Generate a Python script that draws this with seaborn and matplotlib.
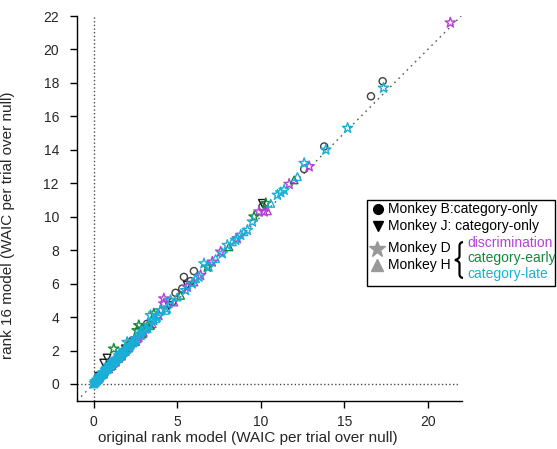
import numpy as np
import pandas as pd
import matplotlib
matplotlib.use("Agg")
import matplotlib.pyplot as plt
import seaborn as sns
from matplotlib.patches import Rectangle, PathPatch
from matplotlib.path import Path
from matplotlib.lines import Line2D

# ---------------- data ----------------
B_x = [17.3, 16.6, 13.8, 12.6, 10.1, 5.4, 6.0, 5.8, 5.3, 4.9, 4.7, 3.2, 2.3, 1.6, 1.0, 0.5, 0.2, 0.05]
B_y = [18.1, 17.2, 14.2, 12.85, 10.6, 6.4, 6.75, 6.15, 5.7, 5.45, 4.9, 3.6, 2.6, 1.8, 1.15, 0.6, 0.2, 0.08]

J_x = [10.1, 5.6, 0.6, 0.8, 1.9, 3.0, 0.3, 4.5]
J_y = [10.8, 5.9, 1.25, 1.55, 2.1, 3.1, 0.45, 4.7]

Ddisc_x = [21.35, 12.9, 11.7, 9.9, 10.2, 7.6, 7.1, 4.2, 4.2, 3.9, 3.3, 2.7, 2.3, 1.9, 1.5, 1.2, 0.9, 0.6, 0.35, 5.6, 6.4, 8.6, 3.0, 1.7, 2.5]
Ddisc_y = [21.6, 13.0, 11.95, 10.3, 10.3, 7.9, 7.3, 5.1, 4.8, 4.1, 3.5, 2.8, 2.5, 2.0, 1.55, 1.25, 0.95, 0.65, 0.4, 5.8, 6.5, 8.7, 3.1, 1.7, 2.55]

Hdisc_x = [0.3, 0.6, 0.9, 1.3, 1.6, 2.1, 2.6, 3.5, 4.8, 6.0, 10.4, 1.1, 1.9, 2.9]
Hdisc_y = [0.3, 0.6, 0.9, 1.3, 1.65, 2.15, 2.7, 3.6, 4.9, 6.1, 10.35, 1.1, 1.95, 3.0]

Dearly_x = [10.3, 9.6, 2.7, 2.9, 2.6, 1.2, 4.0, 3.2, 2.2, 1.7, 0.8, 0.4, 1.3, 2.0, 6.8, 3.6]
Dearly_y = [10.8, 10.0, 3.5, 3.3, 3.2, 2.1, 4.4, 3.4, 2.4, 1.8, 0.9, 0.45, 1.4, 2.1, 7.0, 4.2]

Hearly_x = [12.0, 2.9, 2.5, 1.5, 1.0, 0.5, 0.2, 3.4, 5.2, 8.1]
Hearly_y = [12.2, 3.0, 2.55, 1.55, 1.05, 0.55, 0.25, 3.5, 5.3, 8.2]

Dlate_x = [17.35, 15.2, 13.9, 12.6, 11.4, 11.2, 11.0, 9.5, 9.2, 8.8, 8.5, 8.0, 7.7, 6.6, 6.9, 6.3, 5.9, 5.5,
           4.6, 4.4, 4.0, 3.4, 3.6, 3.1, 2.8, 2.0, 2.5, 2.2, 1.8, 1.5, 1.3, 1.1, 0.9, 0.7, 0.5, 0.4, 0.3, 0.2,
           0.1, 0.05, 0.6, 0.8, 1.0, 1.2, 1.6, 2.4, 2.9, 3.3, 3.8]
Dlate_y = [17.7, 15.3, 14.0, 13.2, 11.6, 11.45, 11.3, 9.7, 9.2, 8.9, 8.6, 8.3, 7.8, 7.2, 7.0, 6.4, 6.0, 5.6,
           5.0, 4.5, 4.4, 4.1, 3.8, 3.3, 3.0, 2.5, 2.7, 2.3, 2.0, 1.7, 1.45, 1.3, 1.1, 0.85, 0.65, 0.5, 0.35, 0.25,
           0.15, 0.05, 0.7, 0.95, 1.15, 1.35, 1.8, 2.55, 3.15, 3.5, 4.0]

Hlate_x = [0.0, 0.1, 0.15, 0.25, 0.35, 0.45, 0.55, 0.65, 0.75, 0.85, 0.95, 1.05, 1.2, 1.35, 1.5, 1.65, 1.8,
           2.0, 2.2, 2.5, 2.8, 3.2, 3.7, 4.3, 5.0, 6.1, 7.3, 8.3, 9.0, 10.6, 12.2,
           0.05, 0.2, 0.3, 0.4, 0.5, 0.6, 0.7, 0.8, 0.9, 1.0, 1.1, 1.3, 1.45, 1.6, 1.75, 1.9, 2.1, 2.35]
Hlate_y = [0.0, 0.1, 0.2, 0.3, 0.4, 0.55, 0.6, 0.75, 0.85, 0.95, 1.05, 1.2, 1.3, 1.45, 1.6, 1.8, 1.9,
           2.1, 2.35, 2.6, 2.9, 3.3, 3.9, 4.4, 5.2, 6.3, 7.5, 8.5, 9.1, 10.8, 12.4,
           0.12, 0.3, 0.42, 0.5, 0.6, 0.7, 0.85, 0.92, 1.05, 1.12, 1.25, 1.4, 1.55, 1.72, 1.85, 2.0, 2.25, 2.45]

x_ticks = [0, 5, 10, 15, 20]
y_ticks = [0, 2, 4, 6, 8, 10, 12, 14, 16, 18, 20, 22]
x_label = "original rank model (WAIC per trial over null)"
y_label = "rank 16 model (WAIC per trial over null)"

C_DISC = "#b640d8"
C_EARLY = "#12893a"
C_LATE = "#19afd9"

# ---------------- style ----------------
sns.set_style("ticks")
plt.rcParams["font.family"] = ["Liberation Sans", "DejaVu Sans"]
plt.rcParams["font.size"] = 10

W, H = 557, 449
fig = plt.figure(figsize=(W / 100, H / 100), dpi=100)
ax = fig.add_axes([77 / W, 1 - 400.7 / H, 385 / W, 384.7 / H])

def px(x, y):
    return (x / W, 1 - y / H)

ax.plot([-1, 22], [-1, 22], color="0.35", lw=1, dashes=(1.2, 3), zorder=1)
ax.axvline(0, color="0.3", lw=1, ls=":", zorder=1)
ax.plot([-1, 21.8], [0, 0], color="0.3", lw=1, ls=":", zorder=1)

groups = [
    (B_x, B_y, "o", "0.25", 26),
    (J_x, J_y, "v", "0.1", 30),
    (Hdisc_x, Hdisc_y, "^", C_DISC, 30),
    (Ddisc_x, Ddisc_y, "*", C_DISC, 60),
    (Hearly_x, Hearly_y, "^", C_EARLY, 30),
    (Dearly_x, Dearly_y, "*", C_EARLY, 60),
    (Hlate_x, Hlate_y, "^", C_LATE, 30),
    (Dlate_x, Dlate_y, "*", C_LATE, 60),
]
for gx, gy, mk, col, s in groups:
    df = pd.DataFrame({"x": gx, "y": gy})
    sns.scatterplot(data=df, x="x", y="y", ax=ax, marker=mk, s=s, color=col,
                    facecolor="none", edgecolor=col, linewidth=1.0, zorder=3)

ax.set_xlim(-1, 22.05)
ax.set_ylim(-1, 22)
ax.set_xticks(x_ticks)
ax.set_yticks(y_ticks)
ax.set_xlabel(x_label, fontsize=11)
ax.set_ylabel(y_label, fontsize=11)
ax.xaxis.set_label_coords(0.444, -0.079)
ax.yaxis.set_label_coords(-0.161, 0.457)
ax.tick_params(direction="out", length=5, width=1, labelsize=10, color="black")
ax.tick_params(axis="x", pad=5)
ax.tick_params(axis="y", pad=8)
sns.despine(ax=ax)
for sp in ["left", "bottom"]:
    ax.spines[sp].set_linewidth(1)
    ax.spines[sp].set_color("black")

# ---------------- legend (manual) ----------------
rect = Rectangle(px(367, 286), 188 / W, 86 / H, transform=fig.transFigure,
                 facecolor="white", edgecolor="black", lw=1, zorder=10)
fig.add_artist(rect)

def mark(x, y, m, col, size):
    fig.add_artist(Line2D([x / W], [1 - y / H], transform=fig.transFigure, marker=m,
                          color=col, markersize=size, ls="none", zorder=11))

mark(378, 209, "o", "black", 7)
mark(378, 226, "v", "black", 7.5)
mark(377, 249, "*", "0.6", 12)
mark(377, 265, "^", "0.6", 8.5)

def t(x, y, s, col="black"):
    fig.text(x / W, 1 - y / H, s, color=col, fontsize=10, va="baseline", ha="left", zorder=12)

t(388, 213.3, "Monkey B:category-only")
t(388, 230, "Monkey J: category-only")
t(388, 252.3, "Monkey D")
t(388, 269, "Monkey H")
t(467, 246.7, "discrimination", C_DISC)
t(467, 262, "category-early", C_EARLY)
t(467, 278, "category-late", C_LATE)

# curly brace
pts = [(463, 242), (459.5, 242.5), (459.5, 246), (459.5, 256), (459.5, 259), (455, 260),
       (459.5, 261), (459.5, 264), (459.5, 274), (459.5, 277.5), (463, 278)]
codes = [Path.MOVETO, Path.CURVE3, Path.CURVE3, Path.LINETO, Path.CURVE3, Path.CURVE3,
         Path.CURVE3, Path.CURVE3, Path.LINETO, Path.CURVE3, Path.CURVE3]
verts = [(x / W, 1 - y / H) for x, y in pts]
fig.add_artist(PathPatch(Path(verts, codes), transform=fig.transFigure, fill=False,
                         edgecolor="black", lw=1.6, zorder=12))

fig.savefig("out.png", dpi=100)
